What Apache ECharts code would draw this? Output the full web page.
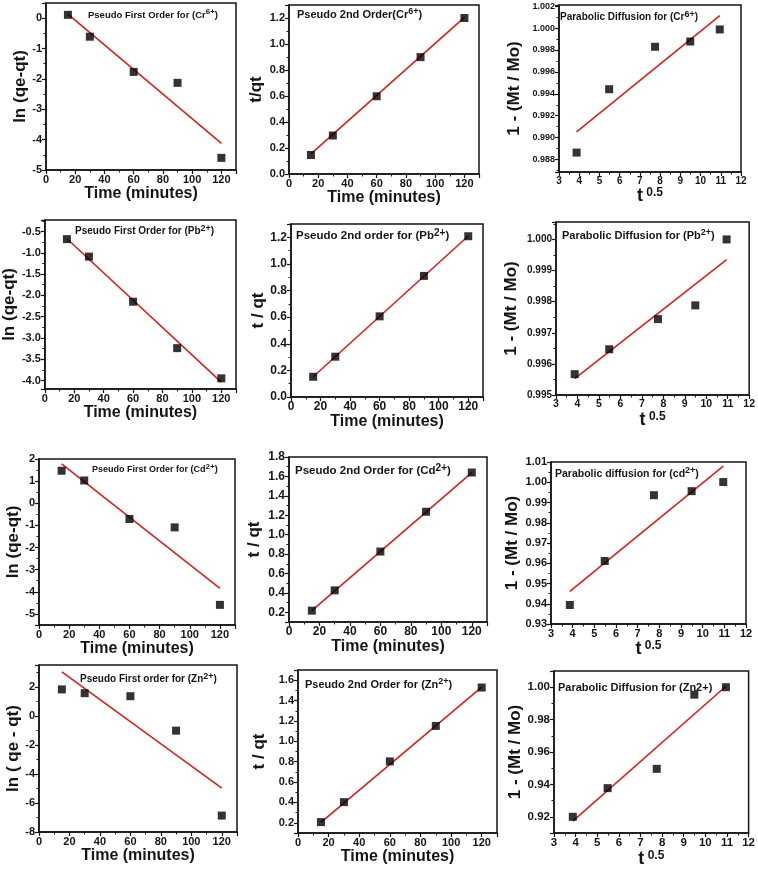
<!DOCTYPE html>
<html><head><meta charset="utf-8">
<script src="https://cdn.jsdelivr.net/npm/echarts@6/dist/echarts.min.js"></script>
<style>html,body{margin:0;padding:0;background:#fff}#c{width:758px;height:869px}</style>
</head><body><div id="c"></div>
<script>
// ---- data ----
const timeMin = [15, 30, 60, 90, 120];
const sqrtTime = [3.87, 5.48, 7.75, 9.49, 10.95];
const timeFitX = [15, 120];
const sqrtFitX = [3.87, 10.95];

const crFirst = [0.11, -0.61, -1.77, -2.13, -4.60];
const crFirstFit = [0.13, -4.12];
const crSecond = [0.146, 0.296, 0.598, 0.899, 1.20];
const crSecondFit = [0.155, 1.205];
const crDiff = [0.98864, 0.99442, 0.99829, 0.99877, 0.99987];
const crDiffFit = [0.99052, 1.00112];

const pbFirst = [-0.68, -1.09, -2.15, -3.24, -3.95];
const pbFirstFit = [-0.67, -4.04];
const pbSecond = [0.152, 0.303, 0.606, 0.91, 1.208];
const pbSecondFit = [0.152, 1.21];
const pbDiff = [0.99567, 0.99647, 0.99744, 0.99788, 1.0000];
const pbDiffFit = [0.99553, 0.99935];

const cdFirst = [1.47, 1.03, -0.71, -1.09, -4.59];
const cdFirstFit = [1.78, -3.84];
const cdSecond = [0.217, 0.426, 0.826, 1.236, 1.640];
const cdSecondFit = [0.217, 1.64];
const cdDiff = [0.9394, 0.9611, 0.9936, 0.9956, 1.0001];
const cdDiffFit = [0.9461, 1.008];

const znFirst = [1.82, 1.56, 1.35, -1.02, -6.87];
const znFirstFit = [3.03, -4.98];
const znSecond = [0.207, 0.403, 0.803, 1.151, 1.528];
const znSecondFit = [0.205, 1.532];
const znDiff = [0.920, 0.9377, 0.9496, 0.9954, 1.000];
const znDiffFit = [0.9173, 1.0006];

// ---- layout / style config ----
const FONT = 'Liberation Sans, Arial, sans-serif';
const INK = '#151515';
const RED = '#d8211f';
const TIME = 'Time (minutes)';
const TSQ = '{t|t}{s| 0.5}';

const panels = [
  {x: timeMin, y: crFirst, fx: timeFitX, fy: crFirstFit, g: [46, 3, 190, 167],
   xa: [0, 130, 20, 0, TIME, 10, 11], ya: [-5, 0.5, 1, 0, 'ln (qe-qt)', 14, 11],
   t: ['Pseudo First Order for (Cr', '6+', ')', 88, 8, 9.5]},
  {x: timeMin, y: crSecond, fx: timeFitX, fy: crSecondFit, g: [289, 5, 190, 169],
   xa: [0, 130, 20, 0, TIME, 8, 11], ya: [0, 1.3, 0.2, 1, 't/qt', 24, 11],
   t: ['Pseudo 2nd Order(Cr', '6+', ')', 297, 7, 11]},
  {x: sqrtTime, y: crDiff, fx: sqrtFitX, fy: crDiffFit, g: [559, 5, 182, 167],
   xa: [3, 12, 1, 0, TSQ, 4, 10], ya: [0.98687, 1.0021, 0.002, 3, '1 - (Mt / Mo)', 36, 9],
   t: ['Parabolic Diffusion for (Cr', '6+', ')', 560, 10, 10]},

  {x: timeMin, y: pbFirst, fx: timeFitX, fy: pbFirstFit, g: [44, 220, 192, 169],
   xa: [0, 130, 20, 0, TIME, 8, 11], ya: [-4.2, -0.23, 0.5, 1, 'ln (qe-qt)', 26, 11],
   t: ['Pseudo First Order for (Pb', '2+', ')', 75, 224, 10]},
  {x: timeMin, y: pbSecond, fx: timeFitX, fy: pbSecondFit, g: [291, 224, 192, 173],
   xa: [0, 130, 20, 0, TIME, 8, 12], ya: [0, 1.3, 0.2, 1, 't / qt', 24, 12],
   t: ['Pseudo 2nd order for (Pb', '2+', ')', 296, 228, 11.5]},
  {x: sqrtTime, y: pbDiff, fx: sqrtFitX, fy: pbDiffFit, g: [556, 222, 196, 173],
   xa: [3, 12, 1, 0, TSQ, 12, 10.5], ya: [0.995, 1.00056, 0.001, 3, '1 - (Mt / Mo)', 36, 10],
   t: ['Parabolic Diffusion for (Pb', '2+', ')', 562, 228, 11]},

  {x: timeMin, y: cdFirst, fx: timeFitX, fy: cdFirstFit, g: [39, 459, 196, 166],
   xa: [0, 130, 20, 0, TIME, 8, 11], ya: [-5.5, 2, 1, 0, 'ln (qe-qt)', 14, 11],
   t: ['Pseudo First Order for (Cd', '2+', ')', 92, 463, 9]},
  {x: timeMin, y: cdSecond, fx: timeFitX, fy: cdSecondFit, g: [289, 457, 198, 165],
   xa: [0, 130, 20, 0, TIME, 8, 12], ya: [0.1, 1.8, 0.2, 1, 't / qt', 26, 12],
   t: ['Pseudo 2nd Order for (Cd', '2+', ')', 295, 463, 11.5]},
  {x: sqrtTime, y: cdDiff, fx: sqrtFitX, fy: cdDiffFit, g: [551, 462, 195, 162],
   xa: [3, 12, 1, 0, TSQ, 12, 11], ya: [0.93, 1.01, 0.01, 2, '1 - (Mt / Mo)', 30, 11],
   t: ['Parabolic diffusion for (cd', '2+', ')', 555, 466, 10.5]},

  {x: timeMin, y: znFirst, fx: timeFitX, fy: znFirstFit, g: [39, 665, 198, 167],
   xa: [0, 130, 20, 0, TIME, 4, 11], ya: [-8, 3.5, 2, 0, 'ln ( qe - qt)', 14, 11],
   t: ['Pseudo First order for (Zn', '2+', ')', 80, 672, 10]},
  {x: timeMin, y: znSecond, fx: timeFitX, fy: znSecondFit, g: [298, 670, 199, 163],
   xa: [0, 130, 20, 0, TIME, 10, 11], ya: [0.1, 1.7, 0.2, 1, 't / qt', 30, 11],
   t: ['Pseudo 2nd Order for (Zn', '2+', ')', 305, 677, 11]},
  {x: sqrtTime, y: znDiff, fx: sqrtFitX, fy: znDiffFit, g: [554, 671, 196, 162],
   xa: [3, 12, 1, 0, TSQ, 6, 11.5], ya: [0.91, 1.01, 0.02, 2, '1 - (Mt / Mo)', 30, 11.5],
   t: ['Parabolic Diffusion for (Zn2+)', '', '', 558, 680, 11]}
];

function fmt(step, dec) {
  return function (v) {
    const r = v / step;
    if (Math.abs(r - Math.round(r)) > 1e-6) return '';
    return (Math.round(r) * step).toFixed(dec);
  };
}

function axisCfg(a, isX, gi) {
  const [min, max, step, dec, name, gap, fs] = a;
  return {
    type: 'value', gridIndex: gi, min: min, max: max,
    minInterval: step, maxInterval: step,
    name: name, nameLocation: 'middle', nameGap: gap,
    nameTextStyle: isX ? {
      fontFamily: FONT, fontWeight: 'bold', fontSize: 16, color: INK,
      rich: {t: {fontFamily: FONT, fontWeight: 'bold', fontSize: 18, color: INK},
             s: {fontFamily: FONT, fontWeight: 'bold', fontSize: 12, color: INK, verticalAlign: 'top'}}
    } : {fontFamily: FONT, fontWeight: 'bold', fontSize: 17, color: INK},
    axisLine: {show: true, onZero: false, lineStyle: {color: INK, width: 1.5}},
    axisTick: {show: true, inside: false, length: 4, lineStyle: {color: INK, width: 1.2}},
    minorTick: {show: true, splitNumber: 2, length: 2.5, lineStyle: {color: INK, width: 1}},
    splitLine: {show: false},
    axisLabel: {formatter: fmt(step, dec), fontFamily: FONT, fontWeight: 'bold', fontSize: fs,
                color: INK, margin: 4, hideOverlap: false, showMinLabel: true, showMaxLabel: true}
  };
}

const option = {animation: false, backgroundColor: '#fff', grid: [], xAxis: [], yAxis: [], series: [], title: []};
panels.forEach((p, i) => {
  option.grid.push({left: p.g[0], top: p.g[1], width: p.g[2], height: p.g[3], show: true,
    borderColor: INK, borderWidth: 1.5, backgroundColor: 'transparent', containLabel: false});
  option.xAxis.push(axisCfg(p.xa, true, i));
  option.yAxis.push(axisCfg(p.ya, false, i));
  option.series.push({type: 'line', xAxisIndex: i, yAxisIndex: i, showSymbol: false, symbol: 'none',
    data: p.fx.map((v, k) => [v, p.fy[k]]), lineStyle: {color: RED, width: 1.6}, z: 2, silent: true});
  option.series.push({type: 'scatter', xAxisIndex: i, yAxisIndex: i, symbol: 'rect', symbolSize: 8,
    data: p.x.map((v, k) => [v, p.y[k]]), itemStyle: {color: '#000'}, z: 3, silent: true});
  const [a, s, c, left, top, fs] = p.t;
  option.title.push({left: left, top: top, padding: 0,
    text: '{a|' + a + '}' + (s ? '{s|' + s + '}{a|' + c + '}' : ''),
    textStyle: {rich: {
      a: {fontFamily: FONT, fontWeight: 'bold', fontSize: fs, color: INK, lineHeight: fs + 5},
      s: {fontFamily: FONT, fontWeight: 'bold', fontSize: Math.round(fs * 0.85), color: INK, verticalAlign: 'top'}
    }}});
});

const chart = echarts.init(document.getElementById('c'), null, {renderer: 'canvas'});
chart.setOption(option);
</script>
</body></html>
